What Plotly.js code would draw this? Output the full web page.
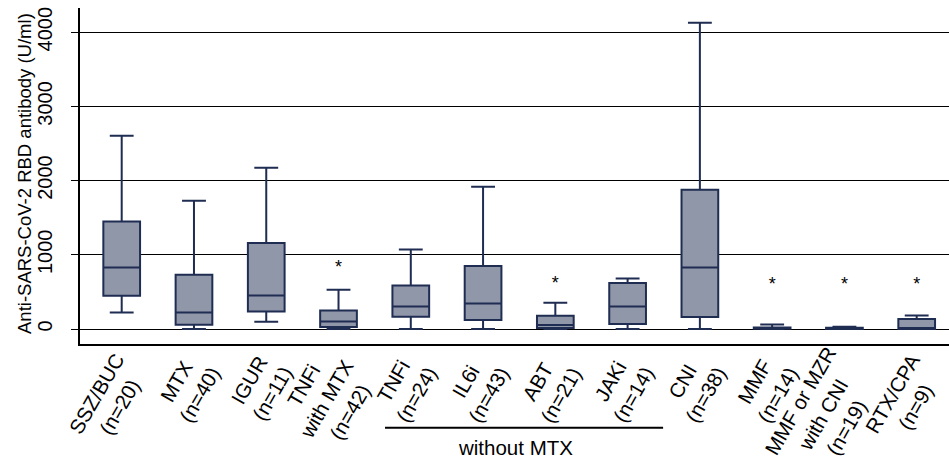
<!DOCTYPE html>
<html><head><meta charset="utf-8">
<script src="https://cdn.plot.ly/plotly-3.0.1.min.js"></script>
<style>html,body{margin:0;padding:0;background:#fff}#chart{width:949px;height:462px}</style>
</head><body><div id="chart"></div>
<script>
// ---- data ----
const groups = ["SSZ/BUC", "MTX", "IGUR", "TNFi<br>with MTX", "TNFi", "IL6i", "ABT", "JAKi", "CNI", "MMF", "MMF or MZR<br>with CNI", "RTX/CPA"];
const groupN = [20, 40, 11, 42, 24, 43, 21, 14, 38, 14, 19, 9];
const q1         = [449,   58,  237,  27, 166, 121,  13,  67,  162,  2,  0,   0];
const median     = [830,  224,  453, 102, 305, 345,  54, 305,  830,  8,  6,  12];
const q3         = [1450, 732, 1159, 251, 588, 849, 179, 620, 1877, 22, 16, 135];
const lowerfence = [224,    0,   98,   0,   0,   0,   0,   0,    0,  0,  0,   0];
const upperfence = [2605, 1729, 2174, 530, 1073, 1918, 354, 682, 4128, 62, 32, 183];
const starGroups = [3, 6, 9, 10, 11];
const starY = [822, 597, 584, 585, 584];
const yTicks = [0, 1000, 2000, 3000, 4000];
const yTitle = "Anti-SARS-CoV-2 RBD antibody (U/ml)";
const bracketLabel = "without MTX";

// ---- drawing ----
const FONT = "Liberation Sans, Arial, sans-serif";
const xIdx = groups.map((_, i) => i);

const boxTrace = {
  type: "box", x: xIdx, q1: q1, median: median, q3: q3,
  lowerfence: lowerfence, upperfence: upperfence,
  boxpoints: false, width: 0.508, whiskerwidth: 0.65,
  fillcolor: "#9097a9", line: { color: "#1f2d52", width: 2 },
  hoverinfo: "skip", showlegend: false
};
const starTrace = {
  type: "scatter", mode: "text", x: starGroups, y: starY,
  text: starGroups.map(() => "*"), textposition: "middle center",
  textfont: { family: FONT, size: 18, color: "#000" },
  hoverinfo: "skip", showlegend: false, cliponaxis: false
};

// rotated, centre-aligned category labels
const FS = 20.5;
const ANG = 60 * Math.PI / 180;
const ctx = document.createElement("canvas").getContext("2d");
ctx.font = FS + 'px "Liberation Sans", Arial, sans-serif';
const AXIS_BOTTOM = 344;      // pixel row of the x axis line
const END_DX = 9, END_Y = 362; // where the end edge of each label block sits
const annotations = groups.map((g, i) => {
  const lines = (g + "<br>(n=" + groupN[i] + ")").split("<br>");
  const W = Math.max.apply(null, lines.map(l => ctx.measureText(l).width));
  const cx = END_DX - (W / 2) * Math.cos(ANG);
  const cy = END_Y + (W / 2) * Math.sin(ANG);
  return {
    text: lines.join("<br>"), x: i, xref: "x", y: 0, yref: "paper",
    xanchor: "center", yanchor: "middle", textangle: -60, align: "center",
    showarrow: false, borderpad: 0,
    xshift: cx, yshift: -(cy - AXIS_BOTTOM),
    font: { family: FONT, size: FS, color: "#000" }
  };
});
annotations.push({
  text: yTitle, xref: "paper", yref: "paper", x: -0.0633, y: 0.509,
  xanchor: "center", yanchor: "middle", textangle: -90, showarrow: false,
  font: { family: FONT, size: 18.5, color: "#000" }
});
annotations.push({
  text: bracketLabel, xref: "paper", yref: "paper", x: 0.5017, y: -0.3095,
  xanchor: "center", yanchor: "middle", showarrow: false,
  font: { family: FONT, size: 20.5, color: "#000" }
});

const layout = {
  width: 949, height: 462,
  margin: { l: 80, r: 0, t: 8, b: 118, pad: 0 },
  paper_bgcolor: "#fff", plot_bgcolor: "#fff",
  font: { family: FONT, color: "#000" },
  showlegend: false,
  xaxis: {
    range: [-0.577, 11.447], showticklabels: false, ticks: "",
    showgrid: false, zeroline: false,
    showline: true, linecolor: "#000", linewidth: 1.5, fixedrange: true
  },
  yaxis: {
    range: [-202, 4326], tickvals: yTicks, ticktext: yTicks.map(String),
    tickangle: -90, tickfont: { family: FONT, size: 20, color: "#000" },
    ticks: "outside", ticklen: 7, tickwidth: 1, tickcolor: "#000",
    ticklabelstandoff: 11,
    showgrid: true, gridcolor: "#000", gridwidth: 1, zeroline: false,
    showline: true, linecolor: "#000", linewidth: 2, fixedrange: true
  },
  shapes: [{
    type: "line", xref: "paper", yref: "paper",
    x0: 0.351, x1: 0.671, y0: -0.249, y1: -0.249,
    line: { color: "#000", width: 2 }
  }],
  annotations: annotations
};

Plotly.newPlot("chart", [boxTrace, starTrace], layout, { displayModeBar: false, staticPlot: true });
</script>
</body></html>
